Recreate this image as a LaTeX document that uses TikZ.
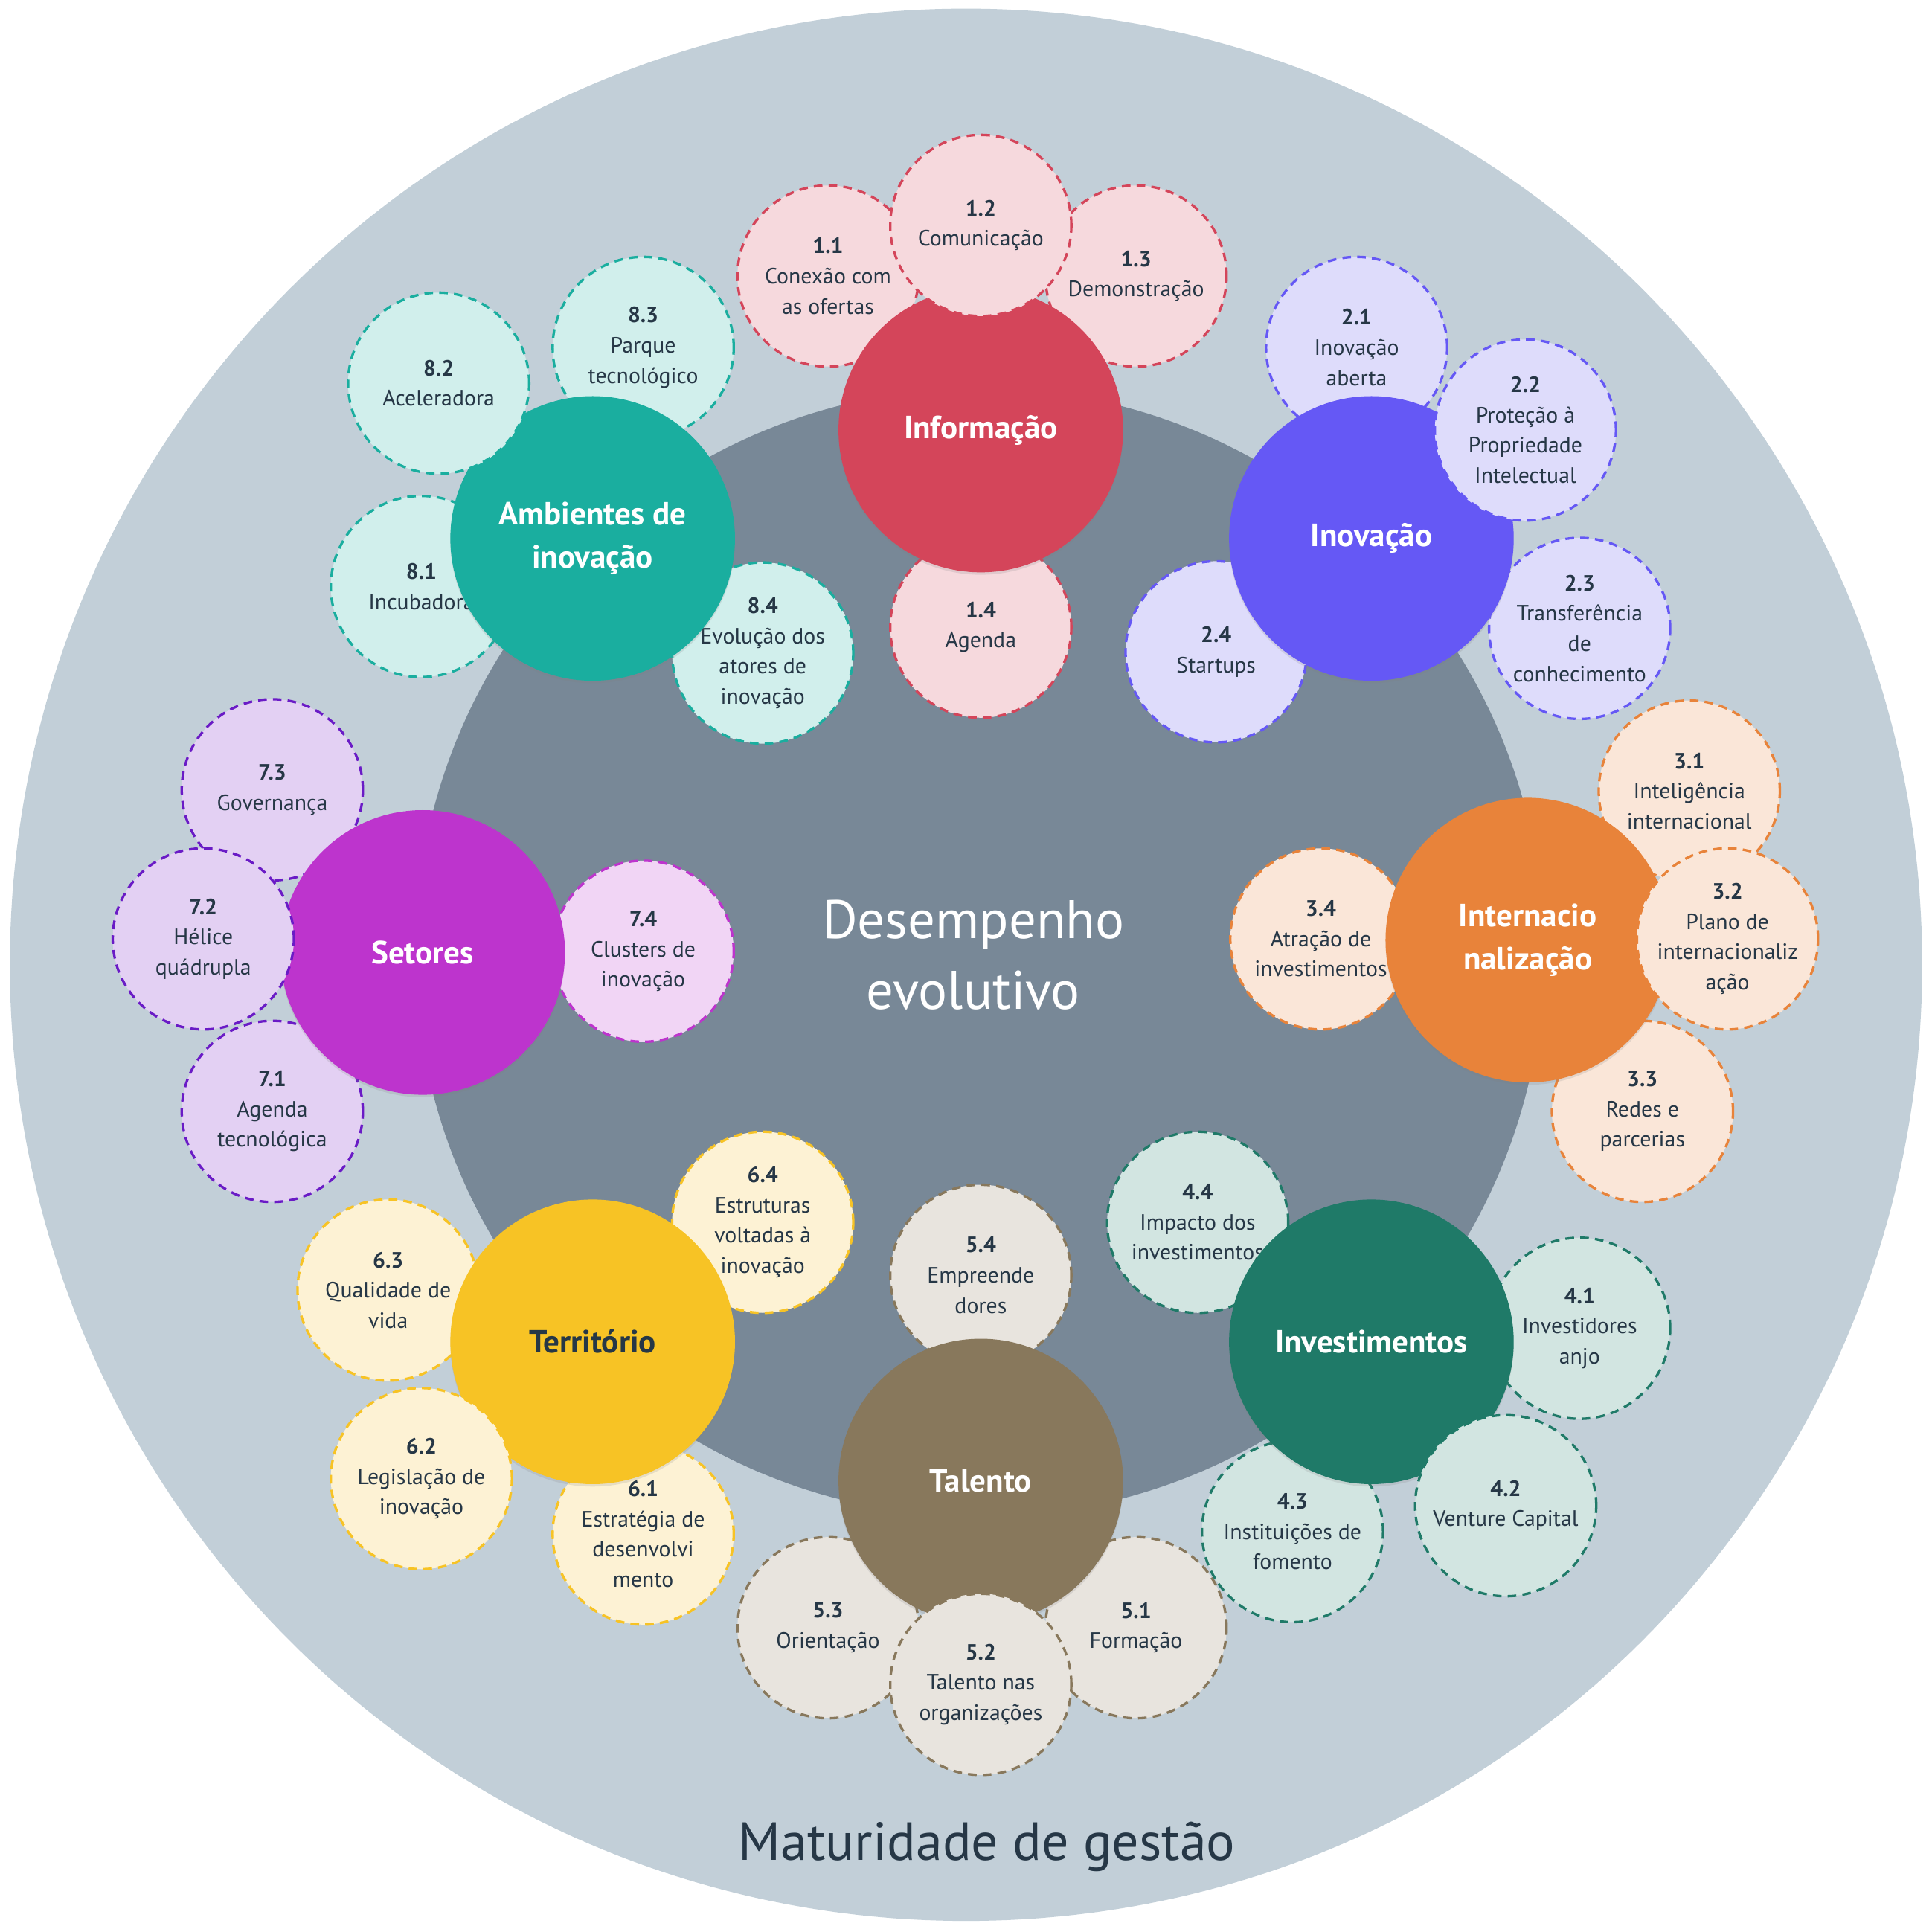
\documentclass[tikz,border=0pt]{standalone}
\usepackage{fontspec}
\setmainfont{PT Sans}
\usepackage{tikz}
\usetikzlibrary{shadows}
\definecolor{mybg}{RGB}{194,207,216}
\definecolor{mygrey}{RGB}{120,136,151}
\definecolor{mytext}{RGB}{38,55,70}
\definecolor{myred}{RGB}{212,69,90}
\definecolor{myredl}{RGB}{246,217,221}
\definecolor{myblue}{RGB}{101,88,245}
\definecolor{mybluel}{RGB}{222,220,251}
\definecolor{myorange}{RGB}{232,131,58}
\definecolor{myorangel}{RGB}{250,230,216}
\definecolor{mygreen}{RGB}{31,122,104}
\definecolor{mygreenl}{RGB}{210,229,225}
\definecolor{mybrown}{RGB}{136,120,92}
\definecolor{mybrownl}{RGB}{232,228,222}
\definecolor{myyellow}{RGB}{247,195,37}
\definecolor{myyellowl}{RGB}{253,242,212}
\definecolor{mypurple}{RGB}{189,52,205}
\definecolor{myviolet}{RGB}{106,27,198}
\definecolor{myvioletl}{RGB}{227,208,243}
\definecolor{mypinkl}{RGB}{241,213,245}
\definecolor{myteal}{RGB}{26,174,159}
\definecolor{myteall}{RGB}{209,239,236}

\newcommand\subnode[5][infob]{
    \node[#1,label={[subtext]center:{\textbf{#4}\\#5}}] (#2) at (#3) {};
}

\begin{document}
\begin{tikzpicture}[x=1pt,y=-1pt,
            subb/.style={
                circle,
                dash pattern=on 7pt off 5pt,
                line width=2pt,
                minimum size=147pt,
                inner sep=0pt},
            subtext/.style={
                align=center,
                inner sep=0pt,
                text=mytext,
                font=\fontsize{18}{24.5}\selectfont},
            infob/.style={subb,draw=myred,fill=myredl},
            inovb/.style={subb,draw=myblue,fill=mybluel},
            interb/.style={subb,draw=myorange,fill=myorangel},
            investb/.style={subb,draw=mygreen,fill=mygreenl},
            talb/.style={subb,draw=mybrown,fill=mybrownl},
            terrb/.style={subb,draw=myyellow,fill=myyellowl},
            setb/.style={subb,draw=myviolet,fill=myvioletl},
            clusb/.style={subb,draw=mypurple,fill=mypinkl},
            ambb/.style={subb,draw=myteal,fill=myteall},
            mainb/.style={
                circle,
                minimum size=231pt,
                inner sep=0pt,
                align=center,
                text=white,
                font={\bfseries\fontsize{26}{35}\selectfont},
                drop shadow={opacity=0.18,shadow xshift=0pt,shadow yshift=-2pt}},
        ]

        \useasboundingbox (0,0) rectangle (1568,1568);
        \fill[mybg] (784,783) circle[radius=776pt];
        \fill[mygrey] (795,773) circle[radius=458pt];

        \node[font=\fontsize{44}{57}\selectfont,text=white,align=center] (Perf) at (790,775) {Desempenho\\evolutivo};
        \node[font=\fontsize{43.5}{50}\selectfont,text=mytext] (Mat) at (801,1499) {Maturidade de gestão};

        \subnode[infob]{S11}{672,224}{1.1}{Conexão com\\as ofertas}
        \subnode[infob]{S13}{922,224}{1.3}{Demonstração}
        \subnode[infob]{S14}{796,509}{1.4}{Agenda}

        \subnode[inovb]{S21}{1101,282}{2.1}{Inovação\\aberta}
        \subnode[inovb]{S23}{1282,510}{2.3}{Transferência\\de\\conhecimento}
        \subnode[inovb]{S24}{987,529}{2.4}{Startups}

        \subnode[interb]{S31}{1371,642}{3.1}{Inteligência\\internacional}
        \subnode[interb]{S33}{1333,902}{3.3}{Redes e\\parcerias}
        \subnode[interb]{S34}{1072,762}{3.4}{Atração de\\investimentos}

        \subnode[investb]{S41}{1282,1078}{4.1}{Investidores\\anjo}
        \subnode[investb]{S43}{1049,1243}{4.3}{Instituições de\\fomento}
        \subnode[investb]{S44}{972,992}{4.4}{Impacto dos\\investimentos}

        \subnode[talb]{S51}{922,1321}{5.1}{Formação}
        \subnode[talb]{S53}{672,1321}{5.3}{Orientação}
        \subnode[talb]{S54}{796,1035}{5.4}{Empreende\\dores}

        \subnode[terrb]{S61}{522,1245}{6.1}{Estratégia de\\desenvolvi\\mento}
        \subnode[terrb]{S63}{315,1047}{6.3}{Qualidade de\\vida}
        \subnode[terrb]{S64}{619,992}{6.4}{Estruturas\\voltadas à\\inovação}

        \subnode[setb]{S71}{221,902}{7.1}{Agenda\\tecnológica}
        \subnode[setb]{S73}{221,641}{7.3}{Governança}
        \subnode[clusb]{S74}{522,772}{7.4}{Clusters de\\inovação}

        \subnode[ambb]{S81}{342,476}{8.1}{Incubadora}
        \subnode[ambb]{S83}{522,282}{8.3}{Parque\\tecnológico}
        \subnode[ambb]{S84}{619,530}{8.4}{Evolução dos\\atores de\\inovação}

        \node[mainb,fill=myred] (Info) at (796,349) {Informação};
        \node[mainb,fill=myblue] (Inov) at (1113,437) {Inovação};
        \node[mainb,fill=myorange] (Inter) at (1240,763) {Internacio\\nalização};
        \node[mainb,fill=mygreen] (Invest) at (1113,1089) {Investimentos};
        \node[mainb,fill=mybrown] (Tal) at (796,1202) {Talento};
        \node[mainb,fill=myyellow,text=mytext] (Terr) at (481,1089) {Território};
        \node[mainb,fill=mypurple] (Set) at (343,773) {Setores};
        \node[mainb,fill=myteal] (Amb) at (481,437) {Ambientes de\\inovação};

        \subnode[infob]{S12}{796,183}{1.2}{Comunicação}
        \subnode[inovb]{S22}{1238,349}{2.2}{Proteção à\\Propriedade\\Intelectual}
        \subnode[interb]{S32}{1402,762}{3.2}{Plano de\\internacionaliz\\ação}
        \subnode[investb]{S42}{1222,1222}{4.2}{Venture Capital}
        \subnode[talb]{S52}{796,1367}{5.2}{Talento nas\\organizações}
        \subnode[terrb]{S62}{342,1200}{6.2}{Legislação de\\inovação}
        \subnode[setb]{S72}{165,762}{7.2}{Hélice\\quádrupla}
        \subnode[ambb]{S82}{356,311}{8.2}{Aceleradora}
    \end{tikzpicture}
\end{document}
